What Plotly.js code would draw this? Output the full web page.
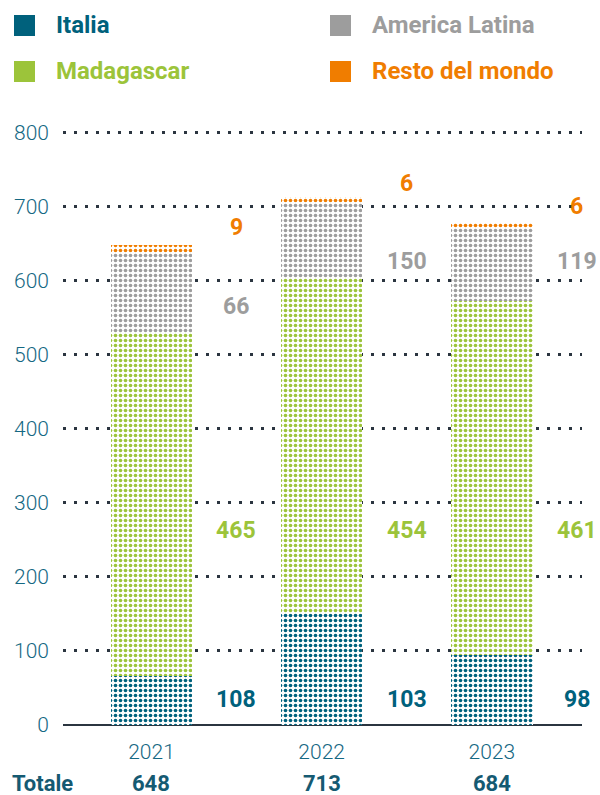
<!DOCTYPE html>
<html>
<head>
<meta charset="utf-8">
<script src="https://cdn.plot.ly/plotly-3.0.1.min.js"></script>
<style>
  html, body { margin: 0; padding: 0; background: #ffffff; }
  #chart { width: 600px; height: 795px; }
</style>
</head>
<body>
<div id="chart"></div>
<script>
// ---- data ----
const years = ['2021', '2022', '2023'];
// segment heights as drawn in the bars
const italia = [66, 150, 94];
const madagascar = [465, 454, 479];
const americaLatina = [108, 103, 100];
const restoDelMondo = [9, 6, 5];
// value labels as printed next to the bars
const italiaLabels = ['108', '103', '98'];
const madagascarLabels = ['465', '454', '461'];
const americaLatinaLabels = ['66', '150', '119'];
const restoLabels = ['9', '6', '6'];
const totals = ['648', '713', '684'];
const yTicks = [0, 100, 200, 300, 400, 500, 600, 700, 800];

// ---- styles ----
const C_IT = '#00617c';
const C_MG = '#9cc43a';
const C_AL = '#9d9d9d';
const C_RM = '#f07d00';
const C_TICK = '#156883';
const C_TOT = '#155a72';
const FONT = 'Roboto, "Open Sans", sans-serif';

function barTrace(name, vals, color) {
  return {
    type: 'bar', name: name, x: years, y: vals,
    width: 0.48,
    marker: {
      color: color,
      line: { width: 0 },
      pattern: { shape: '.', fgcolor: color, bgcolor: '#ffffff', size: 5, solidity: 0.42, fillmode: 'replace' }
    },
    hoverinfo: 'skip', showlegend: false
  };
}

const traces = [
  barTrace('Italia', italia, C_IT),
  barTrace('Madagascar', madagascar, C_MG),
  barTrace('America Latina', americaLatina, C_AL),
  barTrace('Resto del mondo', restoDelMondo, C_RM)
];

// label positions (data units) for each series
const labelRows = [
  { texts: italiaLabels, color: C_IT, ys: [35, 35, 35] },
  { texts: madagascarLabels, color: C_MG, ys: [263, 263, 263] },
  { texts: americaLatinaLabels, color: C_AL, ys: [566, 626, 626] },
  { texts: restoLabels, color: C_RM, ys: [672, 732, 700] }
];

const annotations = [];
labelRows.forEach(row => {
  years.forEach((yr, i) => {
    annotations.push({
      xref: 'x', yref: 'y', x: i, y: row.ys[i], xshift: 85,
      text: '<b>' + row.texts[i] + '</b>', showarrow: false,
      xanchor: 'center', yanchor: 'middle',
      font: { family: FONT, size: 23, color: row.color, weight: 700 }
    });
  });
});
years.forEach((yr, i) => {
  annotations.push({
    xref: 'x', yref: 'paper', x: i, y: 0, yshift: -58,
    text: '<b>' + totals[i] + '</b>', showarrow: false,
    xanchor: 'center', yanchor: 'middle', borderpad: 0,
    font: { family: FONT, size: 22, color: C_TOT, weight: 700 }
  });
});
annotations.push({
  xref: 'paper', yref: 'paper', x: -0.1, y: 0, yshift: -58,
  text: '<b>Totale</b>', showarrow: false, xanchor: 'left', yanchor: 'middle', borderpad: 0,
  font: { family: FONT, size: 22, color: C_TOT, weight: 700 }
});

// legend (custom, two columns)
const L = 63, W = 519, B = 725, H = 607;
const px = v => (v - L) / W;
const py = v => (B - v) / H;
const legendItems = [
  { name: 'Italia', color: C_IT, x: 14, y: 25 },
  { name: 'America Latina', color: C_AL, x: 330, y: 25 },
  { name: 'Madagascar', color: C_MG, x: 14, y: 71 },
  { name: 'Resto del mondo', color: C_RM, x: 330, y: 71 }
];
const shapes = [];
legendItems.forEach(it => {
  shapes.push({
    type: 'rect', xref: 'paper', yref: 'paper',
    x0: px(it.x), x1: px(it.x + 21), y0: py(it.y + 11), y1: py(it.y - 10),
    fillcolor: it.color, line: { width: 0 }
  });
  annotations.push({
    xref: 'paper', yref: 'paper', x: px(it.x + 40), y: py(it.y),
    text: '<b>' + it.name + '</b>', showarrow: false, xanchor: 'left', yanchor: 'middle',
    font: { family: FONT, size: 24, color: it.color, weight: 700 }
  });
});

const layout = {
  width: 600, height: 795,
  margin: { l: 63, r: 18, t: 118, b: 70 },
  paper_bgcolor: '#ffffff', plot_bgcolor: '#ffffff',
  barmode: 'stack',
  showlegend: false,
  xaxis: {
    type: 'category', range: [-0.52, 2.53],
    showgrid: false, zeroline: false, showline: false,
    ticks: '', ticklabelstandoff: 12,
    tickfont: { family: FONT, size: 21, color: C_TICK, weight: 300 },
    fixedrange: true
  },
  yaxis: {
    range: [0, 820], tickvals: yTicks, ticktext: yTicks.map(String),
    showgrid: true, gridcolor: '#2b3540', gridwidth: 3, griddash: '3px,8px',
    zeroline: true, zerolinecolor: '#2b3540', zerolinewidth: 2,
    showline: false, ticks: '', ticklabelstandoff: 13,
    tickfont: { family: FONT, size: 21, color: C_TICK, weight: 300 },
    fixedrange: true
  },
  annotations: annotations,
  shapes: shapes
};

Plotly.newPlot('chart', traces, layout, { displayModeBar: false, staticPlot: true });
</script>
</body>
</html>
